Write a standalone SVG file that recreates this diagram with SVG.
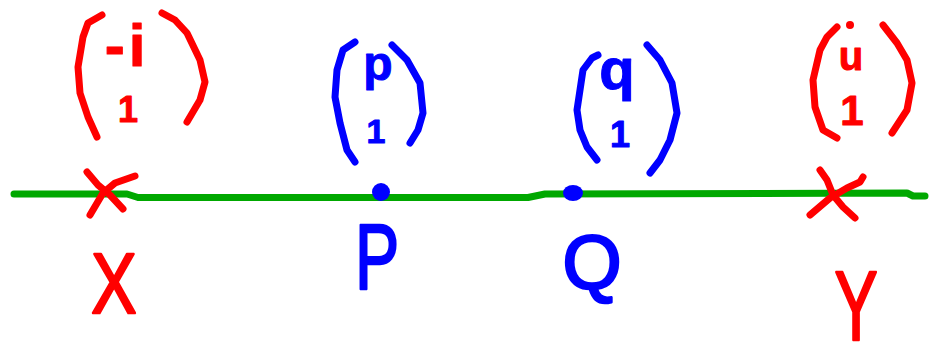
<svg xmlns="http://www.w3.org/2000/svg" width="931" height="361" viewBox="0 0 931 361">
<style>
.r{stroke:#ff0000;stroke-width:7;fill:none;stroke-linecap:round;stroke-linejoin:round}
.b{stroke:#0000ff;stroke-width:7;fill:none;stroke-linecap:round;stroke-linejoin:round}
.g{stroke:#00a800;stroke-width:7;fill:none;stroke-linecap:round;stroke-linejoin:round}
.tr{fill:#ff0000;stroke:#ff0000;stroke-width:2.5;stroke-linejoin:round;font-family:"Liberation Sans",Arial,sans-serif;text-anchor:middle}
.tb{fill:#0000ff;stroke:#0000ff;stroke-width:2.5;stroke-linejoin:round;font-family:"Liberation Sans",Arial,sans-serif;text-anchor:middle}
.v{font-weight:bold;stroke-width:1}
</style>
<rect width="931" height="361" fill="#ffffff"/>
<g id="connectors">
  <path id="axis" class="g" d="M14,194 L127,194 L138,197.5 L528,197.5 L545,194 L907,193 L913,196 L925,196"/>
</g>
<g id="node-X">
  <path class="r" d="M87,172 L98,185 L110,195 L123,209"/>
  <path class="r" d="M90,215 L103,193 L115,183 L135,176"/>
  <text class="tr" font-size="86" transform="translate(114,313) scale(0.79,1)">X</text>
  <path class="r" d="M102,15 L88,23 L83,37 L78,67 L80,93 L88,117 L97,137"/>
  <path class="r" d="M162,13 L175,20 L187,33 L200,60 L205,82 L200,100 L187,122"/>
  <text class="tr v" font-size="60" x="127" y="66" letter-spacing="4">-i</text>
  <text class="tr v" font-size="36" x="128" y="122">1</text>
</g>
<g id="node-P">
  <ellipse cx="381" cy="192" rx="9" ry="9" fill="#0000ff"/>
  <text class="tb" font-size="92" transform="translate(377,289) scale(0.72,1)">P</text>
  <path class="b" d="M355,42 L343,50 L337,70 L335,97 L340,123 L347,150 L355,162"/>
  <path class="b" d="M392,45 L407,60 L420,83 L423,113 L418,130 L410,143"/>
  <text class="tb v" font-size="48" x="378" y="80">p</text>
  <text class="tb v" font-size="34" x="376" y="143">1</text>
</g>
<g id="node-Q">
  <ellipse cx="573" cy="193" rx="10" ry="8" fill="#0000ff"/>
  <text class="tb" font-size="76" x="592" y="288">Q</text>
  <path class="b" d="M598,55 L592,58 L583,70 L577,110 L580,130 L587,147 L597,160"/>
  <path class="b" d="M647,45 L660,60 L672,83 L677,113 L670,140 L660,160 L650,173"/>
  <text class="tb v" font-size="58" x="617" y="89">q</text>
  <text class="tb v" font-size="36" x="620" y="147">1</text>
</g>
<g id="node-Y">
  <path class="r" d="M820,170 L827,180 L833,195 L843,207 L855,218"/>
  <path class="r" d="M863,177 L860,182 L847,188 L830,198 L810,215"/>
  <text class="tr" font-size="98" transform="translate(856,340) scale(0.66,1)">Y</text>
  <path class="r" d="M837,27 L827,37 L820,50 L813,80 L815,107 L823,130 L837,138"/>
  <path class="r" d="M883,25 L897,43 L907,60 L912,83 L907,110 L892,133"/>
  <circle cx="850" cy="25" r="4" fill="#ff0000"/>
  <text class="tr v" font-size="40" x="851" y="70">u</text>
  <text class="tr v" font-size="42" x="852" y="125">1</text>
</g>
</svg>
